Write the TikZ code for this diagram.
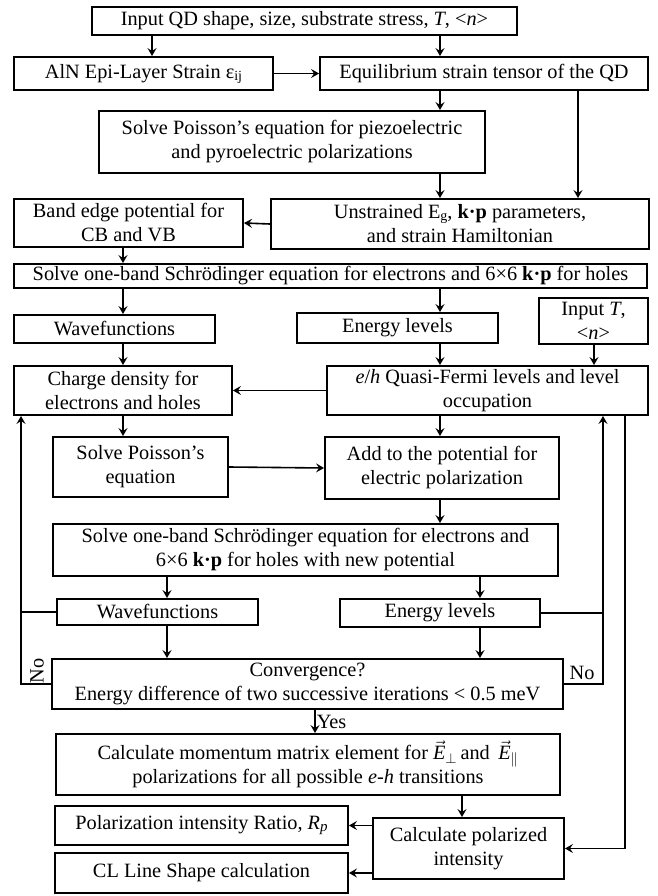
\documentclass[tikz,border=0pt]{standalone}
\usepackage{fontspec}
\setmainfont{Liberation Serif}
\usetikzlibrary{arrows.meta}

\begin{document}
\begin{tikzpicture}[x=1pt, y=-1pt,
        blk/.style={draw, line width=1.9pt, align=center, inner sep=0pt, font=\fontsize{20.3}{24}\selectfont},
        lbl/.style={font=\fontsize{20.3}{24}\selectfont},
        arr/.style={line width=1.6pt, -{Stealth[length=8pt,width=9pt,inset=3pt]}},
        ln/.style={line width=1.6pt}]
        \useasboundingbox (0,0) rectangle (657,896);

        \coordinate (cA) at (152,0);
        \coordinate (cB) at (440,0);
        \coordinate (cC) at (578,0);
        \coordinate (cD) at (123,0);
        \coordinate (cE) at (594,0);
        \coordinate (cF) at (21,0);
        \coordinate (cG) at (603,0);
        \coordinate (cH) at (625,0);
        \coordinate (cI) at (167,0);
        \coordinate (cJ) at (480,0);
        \coordinate (cK) at (315,0);
        \coordinate (cL) at (462,0);

        \node[blk, minimum width=425pt, minimum height=28pt] (inp) at (304.5,21) {Input QD shape, size, substrate stress, \textit{T}, <\textit{n}>};
        \node[blk, minimum width=259pt, minimum height=33pt] (aln) at (143.5,73.5) {AlN Epi-Layer Strain ε\raisebox{-2pt}{\fontsize{14}{14}\selectfont ij}};
        \node[blk, minimum width=328pt, minimum height=33pt] (eq) at (484,73.5) {Equilibrium strain tensor of the QD};
        \node[blk, minimum width=386pt, minimum height=62pt] (pois) at (292,142) {Solve Poisson’s equation for piezoelectric\\and pyroelectric polarizations};
        \node[blk, minimum width=229pt, minimum height=48pt] (band) at (128.5,223) {Band edge potential for\\CB and VB};
        \node[blk, minimum width=378pt, minimum height=50pt] (unstr) at (460,224) {Unstrained E\raisebox{-2pt}{\fontsize{14}{14}\selectfont g}, \textbf{k·p} parameters,\\and strain Hamiltonian};
        \node[blk, minimum width=633pt, minimum height=24pt] (schr) at (330.5,276) {Solve one-band Schrödinger equation for electrons and 6×6 \textbf{k·p} for holes};
        \node[blk, minimum width=201pt, minimum height=28pt] (wfa) at (114.5,329) {Wavefunctions};
        \node[blk, minimum width=201pt, minimum height=30pt] (ena) at (397.5,328) {Energy levels};
        \node[blk, minimum width=109pt, minimum height=46pt] (inT) at (593.5,321) {Input \textit{T},\\<\textit{n}>};
        \node[blk, minimum width=218pt, minimum height=49pt] (charge) at (123,390.5) {Charge density for\\electrons and holes};
        \node[blk, minimum width=321pt, minimum height=49pt] (fermi) at (487.5,390.5) {\textit{e}/\textit{h} Quasi-Fermi levels and level\\occupation};
        \node[blk, minimum width=175pt, minimum height=60pt] (poisb) at (140.5,467) {Solve Poisson’s\\equation};
        \node[blk, minimum width=234pt, minimum height=62pt] (add) at (442,468) {Add to the potential for\\electric polarization};
        \node[blk, minimum width=505pt, minimum height=52pt] (schrb) at (305.5,550) {Solve one-band Schrödinger equation for electrons and\\6×6 \textbf{k·p} for holes with new potential};
        \node[blk, minimum width=201pt, minimum height=26pt] (wfb) at (157.5,612) {Wavefunctions};
        \node[blk, minimum width=200pt, minimum height=28pt] (enb) at (440,613) {Energy levels};
        \node[blk, minimum width=511pt, minimum height=50pt] (conv) at (307.5,684) {Convergence?\\Energy difference of two successive iterations < 0.5 meV};
        \node[blk, minimum width=504pt, minimum height=61pt] (mom) at (308,764.5) {Calculate momentum matrix element for $\vec{\textit{E}}_{\perp}$\,and\, $\vec{\textit{E}}_{\parallel}$\\polarizations for all possible \textit{e-h} transitions};
        \node[blk, minimum width=293pt, minimum height=39pt] (ratio) at (201.5,825.5) {Polarization intensity Ratio, \textit{R}\raisebox{-2pt}{\fontsize{15}{15}\selectfont\textit{p}}};
        \node[blk, minimum width=293pt, minimum height=40pt] (cl) at (201.5,873) {CL Line Shape calculation};
        \node[blk, minimum width=191pt, minimum height=61pt] (calc) at (468.5,848.5) {Calculate polarized\\intensity};

        \draw[arr] (inp.south -| cA) -- (aln.north -| cA);
        \draw[arr] (inp.south -| cB) -- (eq.north -| cB);
        \draw[arr] (aln.east) -- (eq.west);
        \draw[arr] (eq.south -| cB) -- (pois.north -| cB);
        \draw[arr] (eq.south -| cC) -- (unstr.north -| cC);
        \draw[arr] (pois.south -| cB) -- (unstr.north -| cB);
        \draw[arr] (unstr.west) -- (band.east);
        \draw[arr] (band.south -| cD) -- (schr.north -| cD);
        \draw[arr] (schr.south -| cD) -- (wfa.north -| cD);
        \draw[arr] (schr.south -| cB) -- (ena.north -| cB);
        \draw[arr] (wfa.south -| cD) -- (charge.north -| cD);
        \draw[arr] (ena.south -| cB) -- (fermi.north -| cB);
        \draw[arr] (inT.south -| cE) -- (fermi.north -| cE);
        \draw[arr] (fermi.west) -- (charge.east);
        \draw[arr] (charge.south -| cD) -- (poisb.north -| cD);
        \draw[arr] (fermi.south -| cB) -- (add.north -| cB);
        \draw[arr] (poisb.east) -- (add.west);
        \draw[arr] (add.south -| cB) -- (schrb.north -| cB);
        \draw[arr] (schrb.south -| cI) -- (wfb.north -| cI);
        \draw[arr] (schrb.south -| cJ) -- (enb.north -| cJ);
        \draw[arr] (wfb.south -| cI) -- (conv.north -| cI);
        \draw[arr] (enb.south -| cJ) -- (conv.north -| cJ);
        \draw[ln] (wfb.west) -- (wfb.west -| cF);
        \draw[ln] (enb.east) -- (enb.east -| cG);
        \draw[arr] (conv.west) -| (charge.south -| cF);
        \draw[arr] (conv.east) -| (fermi.south -| cG);
        \draw[arr] (conv.south -| cK) -- (mom.north -| cK) node[midway, right, lbl, inner sep=1pt] (yes) {Yes};
        \draw[arr] (mom.south -| cL) -- (calc.north -| cL);
        \draw[arr] (fermi.south -| cH) |- (calc.east);
        \draw[arr] (calc.west |- ratio.east) -- (ratio.east);
        \draw[arr] (calc.west |- cl.east) -- (cl.east);

        \node[rotate=90, lbl] (nol) at (37,671) {No};
        \node[lbl] (nor) at (582,673) {No};
    \end{tikzpicture}
\end{document}
